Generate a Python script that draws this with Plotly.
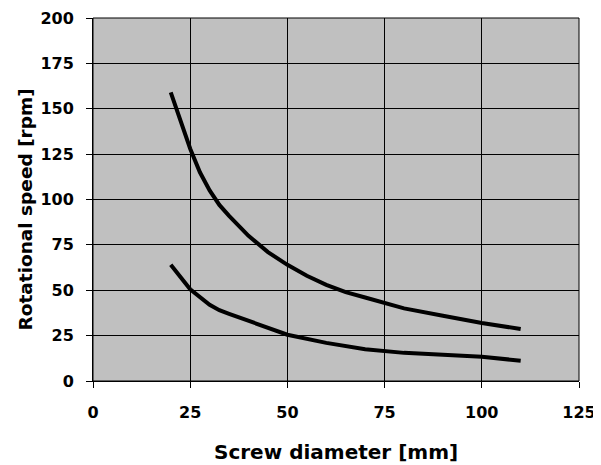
import plotly.graph_objects as go

# Screw diameter [mm]
upper_x = [20, 22.5, 25, 27.5, 30, 32.5, 35, 40, 45, 50, 55, 60, 65, 70, 75, 80, 90, 100, 110]
upper_y = [159, 143, 128, 115, 105, 97, 91, 80, 71, 64, 58, 53, 49, 46, 43, 40, 36, 32, 28.6]

lower_x = [20, 25, 30, 32.5, 35, 40, 45, 50, 60, 70, 80, 90, 100, 110]
lower_y = [64, 50.5, 42, 39, 37, 33, 29, 25.5, 21, 17.5, 15.5, 14.5, 13.3, 11.2]

x_ticks = [0, 25, 50, 75, 100, 125]
y_ticks = [0, 25, 50, 75, 100, 125, 150, 175, 200]

fig = go.Figure()
for xs, ys in [(upper_x, upper_y), (lower_x, lower_y)]:
    fig.add_trace(go.Scatter(x=xs, y=ys, mode="lines",
                             line=dict(color="black", width=4),
                             showlegend=False))

font = dict(family="DejaVu Sans, sans-serif", color="black")

# the page body adds an 8px offset, so the figure is sized to fit the window
fig.update_layout(
    width=593, height=457,
    margin=dict(l=85, r=22, t=10, b=84),
    paper_bgcolor="white",
    plot_bgcolor="#C0C0C0",
    font=font,
    xaxis=dict(
        range=[0, 125], tickvals=x_ticks, ticktext=[f"<b>{v}</b>" for v in x_ticks],
        showgrid=True, gridcolor="black", gridwidth=1,
        showline=True, linecolor="black", linewidth=1,
        ticks="outside", ticklen=6, tickcolor="black", ticklabelstandoff=11,
        tickfont=dict(size=16, **font), zeroline=False, automargin=False,
    ),
    yaxis=dict(
        range=[0, 200], tickvals=y_ticks, ticktext=[f"<b>{v}</b>" for v in y_ticks],
        showgrid=True, gridcolor="black", gridwidth=1,
        showline=True, linecolor="black", linewidth=1,
        ticks="outside", ticklen=6, tickcolor="black", ticklabelstandoff=9,
        tickfont=dict(size=16, **font), zeroline=False, automargin=False,
    ),
    annotations=[
        dict(text="<b>Screw diameter [mm]</b>", xref="paper", yref="paper",
             x=0.5, y=0, yshift=-71, xanchor="center", yanchor="middle",
             showarrow=False, font=dict(size=20, **font)),
        dict(text="<b>Rotational speed [rpm]</b>", xref="paper", yref="paper",
             x=0, y=0.5, xshift=-68, yshift=-10, xanchor="center", yanchor="middle",
             textangle=-90, showarrow=False, font=dict(size=18.5, **font)),
    ],
)
fig.add_shape(type="rect", xref="paper", yref="paper", x0=0, y0=0, x1=1, y1=1,
              line=dict(color="black", width=1), layer="above")

fig.write_html("out.html")
